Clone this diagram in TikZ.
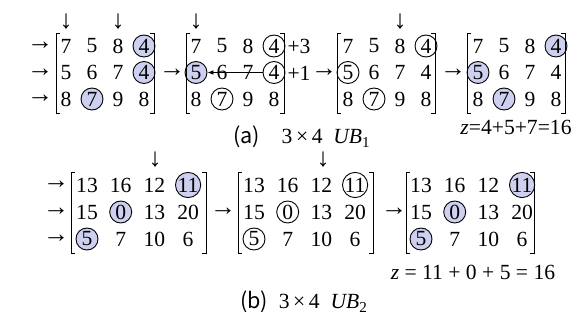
\documentclass[tikz,border=0pt]{standalone}
\usepackage{fontspec}
\setmainfont{Liberation Serif}
\newfontfamily\capfont{Noto Sans CJK KR}
\usepackage{xcolor}
\definecolor{colMark}{RGB}{206,208,240}
\usetikzlibrary{arrows.meta, positioning}
\newcommand{\numfont}{\fontsize{10.8}{12}\selectfont}
% square brackets of one matrix: left x, right x, top y, bottom y
\newcommand{\mbracks}[4]{%
	\draw[brack] ({#1+4},#3) -- (#1,#3) -- (#1,#4) -- ({#1+4},#4);
	\draw[brack] ({#2-4},#3) -- (#2,#3) -- (#2,#4) -- ({#2-4},#4);}
\tikzset{
	ent/.style={font=\numfont, inner sep=0pt},
	pointer/.style={font=\fontsize{13}{13}\selectfont, inner sep=0pt},
	ring/.style={ent, draw, circle, minimum size=11pt, line width=0.45pt},
	dot/.style={ring, fill=colMark},
	brack/.style={line width=0.45pt},
	sweeparr/.style={-{Latex[length=3pt,width=2.4pt]}, line width=0.45pt},
	caption/.style={font=\numfont, inner sep=0pt},
}

\begin{document}
\begin{tikzpicture}[x=0.5pt, y=-0.5pt]
	\useasboundingbox (0,0) rectangle (572,326);
	% (a) first upper bound
	\foreach \i in {0,1,2}
		\node[pointer] (ra-\i) at (40,{46+26.5*\i}) {→};
	\node[pointer] (da-1) at (66,22) {↓};
	\node[pointer] (da-2) at (118,22) {↓};
	\foreach \t/\s [count=\k from 0] in {7/ent,5/ent,8/ent,4/dot, 5/ent,6/ent,7/ent,4/dot, 8/ent,7/dot,9/ent,8/ent}
		\node[\s] (a1-\k) at ({66+26*mod(\k,4)},{46+26.5*int(\k/4)}) {\t};
	\mbracks{56}{154}{33}{113}
	\node[pointer] (ta-1) at (172,73) {→};
	\node[pointer] (da-3) at (196,22) {↓};
	\foreach \t/\s [count=\k from 0] in {7/ent,5/ent,8/ent,4/ring, 5/dot,6/ent,7/ent,4/ring, 8/ent,7/ring,9/ent,8/ent}
		\node[\s] (a2-\k) at ({196+26*mod(\k,4)},{46+26.5*int(\k/4)}) {\t};
	\mbracks{186}{284}{33}{113}
	\draw[sweeparr] (a2-7) -- (a2-4);
	\node[ent] (pa-1) at (299,46) {+3};
	\node[ent] (pa-2) at (299,73) {+1};
	\node[pointer] (ta-2) at (324,73) {→};
	\node[pointer] (da-4) at (400,22) {↓};
	\foreach \t/\s [count=\k from 0] in {7/ent,5/ent,8/ent,4/ring, 5/ring,6/ent,7/ent,4/ent, 8/ent,7/ring,9/ent,8/ent}
		\node[\s] (a3-\k) at ({348+26*mod(\k,4)},{46+26.5*int(\k/4)}) {\t};
	\mbracks{337}{435}{33}{113}
	\node[pointer] (ta-3) at (453,73) {→};
	\foreach \t/\s [count=\k from 0] in {7/ent,5/ent,8/ent,4/dot, 5/dot,6/ent,7/ent,4/ent, 8/ent,7/dot,9/ent,8/ent}
		\node[\s] (a4-\k) at ({478+26*mod(\k,4)},{46+26.5*int(\k/4)}) {\t};
	\mbracks{467}{565}{33}{113}
	\node[caption] (za) at (516,127) {\textit{z}=4+5+7=16};
	\node[caption] (capa) at (302,137) {{\capfont (a)}\quad 3\,×\,4\enspace\textit{UB}\textsubscript{1}};
	% (b) second upper bound
	\foreach \i in {0,1,2}
		\node[pointer] (rb-\i) at (56,{185+27*\i}) {→};
	\node[pointer] (db-1) at (155,160) {↓};
	\foreach \t/\s [count=\k from 0] in {13/ent,16/ent,12/ent,11/dot, 15/ent,0/dot,13/ent,20/ent, 5/dot,7/ent,10/ent,6/ent}
		\node[\s] (b1-\k) at ({87+33.7*mod(\k,4)},{185+27*int(\k/4)}) {\t};
	\mbracks{71}{206}{172}{253}
	\node[pointer] (tb-1) at (223,212) {→};
	\node[pointer] (db-2) at (323,160) {↓};
	\foreach \t/\s [count=\k from 0] in {13/ent,16/ent,12/ent,11/ring, 15/ent,0/ring,13/ent,20/ent, 5/ring,7/ent,10/ent,6/ent}
		\node[\s] (b2-\k) at ({254+33.7*mod(\k,4)},{185+27*int(\k/4)}) {\t};
	\mbracks{238}{373}{172}{253}
	\node[pointer] (tb-2) at (394,212) {→};
	\foreach \t/\s [count=\k from 0] in {13/ent,16/ent,12/ent,11/dot, 15/ent,0/dot,13/ent,20/ent, 5/dot,7/ent,10/ent,6/ent}
		\node[\s] (b3-\k) at ({421+33.7*mod(\k,4)},{185+27*int(\k/4)}) {\t};
	\mbracks{406}{534}{172}{253}
	\node[caption] (zb) at (473,272) {\textit{z} = 11 + 0 + 5 = 16};
	\node[caption] (capb) at (304,302) {{\capfont (b)}\enspace 3\,×\,4\enspace\textit{UB}\textsubscript{2}};
\end{tikzpicture}
\end{document}
